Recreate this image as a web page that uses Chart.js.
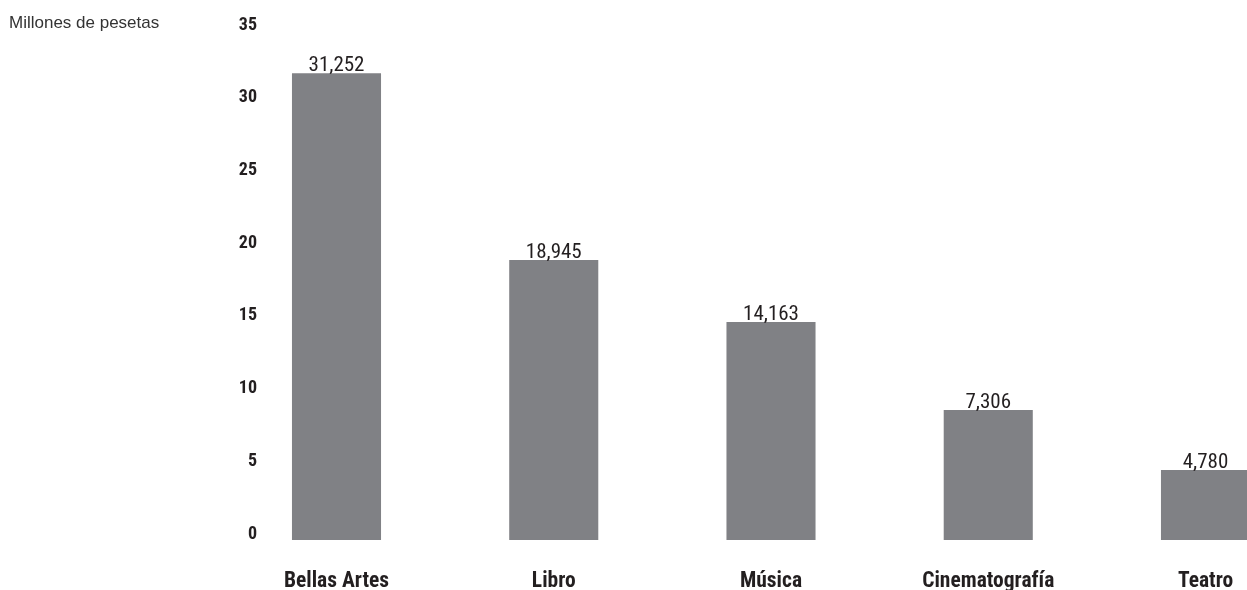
<!DOCTYPE html>
<html>
<head>
<meta charset="utf-8">
<script src="https://cdn.jsdelivr.net/npm/chart.js@4/dist/chart.umd.min.js"></script>
<style>
html, body { margin: 0; padding: 0; background: #ffffff; overflow: hidden; }
#wrap { width: 1247px; height: 590px; }
</style>
</head>
<body>
<div id="wrap"><canvas id="c" width="1247" height="590"></canvas></div>
<script>
// Categories
const categories = ['Bellas Artes', 'Libro', 'Música', 'Cinematografía', 'Teatro'];
// Bar heights (millones de pesetas)
const barValues = [32.1, 19.25, 14.99, 8.94, 4.81];
// Printed value labels above the bars
const valueLabels = ['31,252', '18,945', '14,163', '7,306', '4,780'];
// Y axis ticks
const yTicks = [0, 5, 10, 15, 20, 25, 30, 35];
const unitLabel = 'Millones de pesetas';

const NARROW = "'Roboto Condensed', 'Open Sans Condensed', sans-serif";
const REGULAR = "'Liberation Sans', Arial, sans-serif";
const TEXT = '#231f20';

const valueLabelPlugin = {
  id: 'valueLabels',
  afterDatasetsDraw(chart) {
    const ctx = chart.ctx;
    const meta = chart.getDatasetMeta(0);
    ctx.save();
    ctx.font = "21px " + NARROW;
    ctx.fillStyle = TEXT;
    ctx.textAlign = 'center';
    ctx.textBaseline = 'alphabetic';
    meta.data.forEach((bar, i) => {
      ctx.fillText(valueLabels[i], bar.x, bar.y - 2);
    });
    ctx.restore();
  }
};

new Chart(document.getElementById('c'), {
  type: 'bar',
  data: {
    labels: categories,
    datasets: [{
      data: barValues,
      backgroundColor: '#808185',
      borderWidth: 0,
      categoryPercentage: 1,
      barPercentage: 0.41,
      clip: false
    }]
  },
  options: {
    responsive: false,
    animation: false,
    devicePixelRatio: 1,
    layout: { padding: { left: 9, right: 41.5, top: 0, bottom: 0 } },
    plugins: {
      legend: { display: false },
      tooltip: { enabled: false },
      title: {
        display: true,
        text: unitLabel,
        align: 'start',
        color: '#333333',
        font: { family: REGULAR, size: 17, weight: 'normal', lineHeight: 0.912 },
        padding: { top: 15.5, bottom: 0 }
      }
    },
    scales: {
      x: {
        offset: false,
        grid: { display: false, drawTicks: false, tickLength: 0 },
        border: { display: false },
        afterFit(scale) {
          scale.height = 50;
          scale.paddingLeft = 0;
          scale.paddingRight = 0;
        },
        ticks: {
          color: TEXT,
          maxRotation: 0,
          autoSkip: false,
          padding: 29,
          font: { family: NARROW, size: 21.5, weight: 'bold', lineHeight: 1.2 }
        }
      },
      y: {
        min: 0,
        max: 35,
        afterBuildTicks(scale) { scale.ticks = yTicks.map(v => ({ value: v })); },
        afterFit(scale) {
          scale.width = 336.5 - 9;
          scale.paddingTop = 0;
          scale.paddingBottom = 0;
        },
        grid: { display: false, drawTicks: false, tickLength: 0 },
        border: { display: false },
        ticks: {
          color: TEXT,
          padding: 79.5,
          labelOffset: -6,
          font: { family: NARROW, size: 18, weight: 'bold' }
        }
      }
    }
  },
  plugins: [valueLabelPlugin]
});
</script>
</body>
</html>
